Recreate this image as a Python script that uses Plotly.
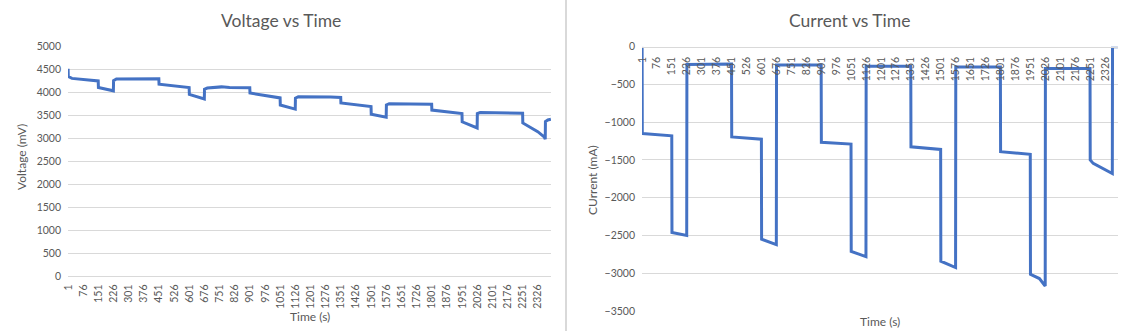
import plotly.graph_objects as go

# Time axis tick labels (seconds), shown every 75 samples
time_ticks = [1, 76, 151, 226, 301, 376, 451, 526, 601, 676, 751, 826, 901, 976,
              1051, 1126, 1201, 1276, 1351, 1426, 1501, 1576, 1651, 1726, 1801,
              1876, 1951, 2026, 2101, 2176, 2251, 2326]
n_samples = 2390

# Cell voltage trace (mV): points where the profile changes
v_time = [1, 2, 20, 150, 151, 225, 226, 240, 450, 451, 600, 601, 675, 676, 690,
          760, 800, 900, 901, 1050, 1051, 1125, 1126, 1140, 1300, 1350, 1351, 1500,
          1501, 1575, 1576, 1590, 1800, 1801, 1950, 1951, 2025, 2026, 2040, 2250,
          2251, 2275, 2325, 2358, 2362, 2363, 2375, 2390]
v_mv = [4520, 4350, 4310, 4255, 4110, 4040, 4260, 4295, 4300, 4185, 4110, 3960,
        3860, 4075, 4100, 4125, 4110, 4105, 3990, 3885, 3730, 3640, 3880, 3910,
        3905, 3895, 3775, 3695, 3530, 3465, 3730, 3760, 3745, 3620, 3545, 3365,
        3230, 3545, 3565, 3550, 3340, 3275, 3150, 3030, 2985, 3370, 3405, 3420]

# Load current trace (mA)
c_time = [1, 2, 150, 151, 225, 226, 450, 451, 600, 601, 675, 676, 900, 901, 1050,
          1051, 1125, 1126, 1350, 1351, 1500, 1501, 1575, 1576, 1800, 1801, 1950,
          1951, 1996, 2025, 2026, 2250, 2251, 2266, 2362, 2363, 2390]
c_ma = [0, -1150, -1180, -2460, -2500, -235, -230, -1195, -1225, -2550, -2620,
        -242, -242, -1265, -1290, -2710, -2780, -260, -260, -1325, -1360, -2840,
        -2925, -268, -268, -1390, -1425, -3015, -3070, -3170, -290, -290, -1500,
        -1545, -1680, 0, 0]

W, H = 1123, 331
BLUE = "#4472C4"
GRID = "#D9D9D9"
TXT = "#595959"
FONT = "Lato"


def px(x):
    return x / W


def py(y):
    return 1 - y / H


fig = go.Figure()
fig.add_trace(go.Scatter(x=v_time, y=v_mv, mode="lines", xaxis="x", yaxis="y",
                         line=dict(color=BLUE, width=3), showlegend=False))
fig.add_trace(go.Scatter(x=c_time, y=c_ma, mode="lines", xaxis="x2", yaxis="y2",
                         line=dict(color=BLUE, width=3), showlegend=False))

tick_font = dict(family=FONT, size=10.5, color=TXT)
common_x = dict(range=[0.5, n_samples + 0.5], tickmode="array", tickvals=time_ticks,
                ticktext=[str(t) for t in time_ticks], tickangle=-90, ticks="",
                showgrid=False, zeroline=False, showline=True, linecolor=GRID,
                linewidth=1, tickfont=tick_font, fixedrange=True, automargin=False)
common_y = dict(dtick=500, ticks="", showgrid=True, gridcolor=GRID, gridwidth=1,
                zeroline=False, showline=False, tickfont=tick_font,
                ticklabelstandoff=6, automargin=False)

fig.update_layout(
    template="none",
    width=W, height=H,
    margin=dict(l=0, r=0, t=0, b=0, autoexpand=False),
    paper_bgcolor="white", plot_bgcolor="white",
    xaxis=dict(domain=[px(68), px(551)], anchor="y", ticklabelstandoff=3, **common_x),
    yaxis=dict(domain=[py(276.3), py(46.7)], anchor="x", range=[0, 5000], **common_y),
    xaxis2=dict(domain=[px(642), px(1118)], anchor="free", position=py(46.7),
                side="bottom", ticklabelstandoff=5, **common_x),
    yaxis2=dict(domain=[py(311), py(46.7)], anchor="x2", range=[-3500, 0], **common_y),
    shapes=[dict(type="line", xref="paper", yref="paper", x0=px(566), x1=px(566),
                 y0=0, y1=1, line=dict(color=GRID, width=2))],
)

title_font = dict(family=FONT, size=17.5, color=TXT)
axis_font = dict(family=FONT, size=12, color=TXT)
annots = [
    dict(text="Voltage vs Time", x=px(280.5), y=py(20.5), font=title_font),
    dict(text="Current vs Time", x=px(849), y=py(20.5), font=title_font),
    dict(text="Voltage (mV)", x=px(22), y=py(157), font=axis_font, textangle=-90),
    dict(text="CUrrent (mA)", x=px(592), y=py(180), font=axis_font, textangle=-90),
    dict(text="Time (s)", x=px(309.5), y=py(316.7), font=axis_font),
    dict(text="Time (s)", x=px(880), y=py(321.7), font=axis_font),
]
for a in annots:
    fig.add_annotation(xref="paper", yref="paper", showarrow=False,
                       xanchor="center", yanchor="middle", **a)

fig.write_html("out.html")
